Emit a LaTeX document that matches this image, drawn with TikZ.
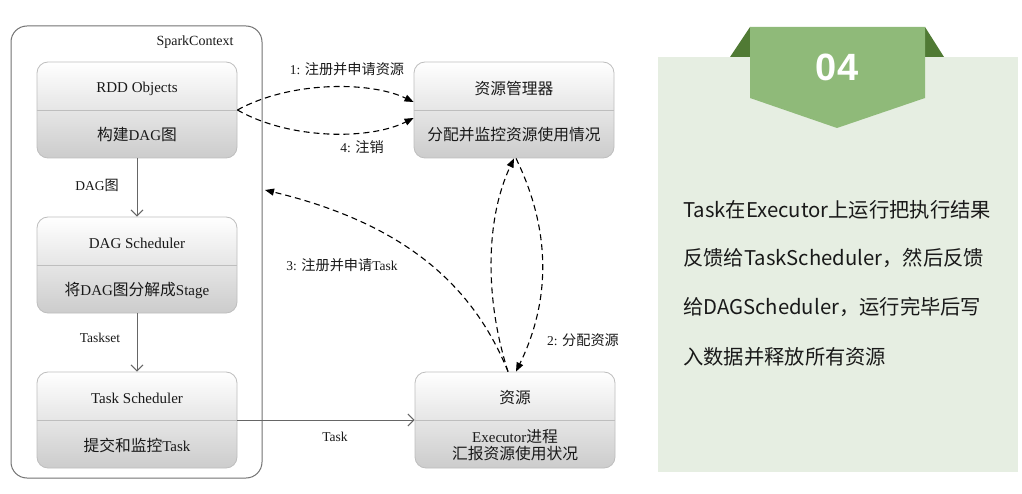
\documentclass[tikz,border=0pt]{standalone}
\usepackage{fontspec}
\setmainfont{Liberation Serif}
\newfontfamily\cjk{Noto Sans CJK SC}[Scale=1.05]
\newfontfamily\cjkp{Noto Sans CJK SC}
\newfontfamily\numfont{Liberation Sans}
\usetikzlibrary{arrows.meta}
\newcommand\zh[1]{{\cjk #1}}
\definecolor{panelbg}{RGB}{230,238,226}
\definecolor{bannerg}{RGB}{143,186,121}
\definecolor{darkg}{RGB}{80,122,52}
\definecolor{boxline}{RGB}{190,190,190}
\definecolor{txt}{RGB}{25,25,25}
\tikzset{
  box/.style={draw=boxline, line width=0.8pt, rounded corners=11pt, top color=white, bottom color=black!20,
    minimum width=200pt, minimum height=96pt, inner sep=0pt},
  boxtxt/.style={font=\fontsize{15}{18}\selectfont, text=txt, inner sep=0pt, align=center},
  lbl/.style={font=\fontsize{13.5}{16}\selectfont, text=txt, inner sep=0pt},
  solidarr/.style={draw=black!60, line width=1pt, -{Straight Barb[length=6pt,width=12pt]}},
  dasharr/.style={draw=black, line width=1.1pt, dash pattern=on 6pt off 4pt, -{Triangle[length=9pt,width=7pt]}},
  ptxt/.style={font=\cjkp\fontsize{20.3}{24}\selectfont, text=txt, anchor=west, inner sep=0pt}
}
\begin{document}
\begin{tikzpicture}[x=1pt,y=-1pt]
\useasboundingbox[fill=white] (0,0) rectangle (1022,494);
% container
\node[draw=black!55, line width=1pt, rounded corners=16pt, minimum width=251pt, minimum height=452pt] (spark) at (136.5,252) {};
\node[lbl, font=\fontsize{14}{16}\selectfont] (sparkT) at (195,42) {SparkContext};
% boxes
\node[box] (rdd) at (137,110) {};
\node[box] (dag) at (137,265) {};
\node[box] (task) at (137,420) {};
\node[box] (rm) at (514,110) {};
\node[box] (res) at (515,420) {};
\foreach \b in {rdd,dag,task,rm,res} \draw[boxline, line width=0.8pt] (\b.west) -- (\b.east);
% box texts
\node[boxtxt] (rddA) at (137,89) {RDD Objects};
\node[boxtxt] (rddB) at (137,135) {\zh{构建}DAG\zh{图}};
\node[boxtxt] (dagA) at (137,243) {DAG Scheduler};
\node[boxtxt] (dagB) at (137,290) {\zh{将}DAG\zh{图分解成}Stage};
\node[boxtxt] (taskA) at (137,398) {Task Scheduler};
\node[boxtxt] (taskB) at (137,445) {\zh{提交和监控}Task};
\node[boxtxt] (rmA) at (514,89) {\zh{资源管理器}};
\node[boxtxt] (rmB) at (514,135) {\zh{分配并监控资源使用情况}};
\node[boxtxt] (resA) at (515,398) {\zh{资源}};
\node[boxtxt] (resB) at (515,445) {Executor\zh{进程}\\[-1pt]\zh{汇报资源使用状况}};
% solid arrows
\draw[solidarr] (rdd.south) -- (dag.north);
\draw[solidarr] (dag.south) -- (task.north);
\draw[solidarr] (task.east) -- (res.west);
\node[lbl] (l0) at (97,185) {DAG\zh{图}};
\node[lbl] (l1) at (100,338) {Taskset};
\node[lbl] (l2) at (335,437) {Task};
% dashed arrows
\draw[dasharr] (rdd.east) .. controls (290,81) and (370,81) .. ([yshift=8pt]rm.west);
\draw[dasharr] (rdd.east) .. controls (290,140) and (370,140) .. ([yshift=-8pt]rm.west);
\node[lbl] (l3) at (347,69) {1: \zh{注册并申请资源}};
\node[lbl] (l4) at (362,147) {4: \zh{注销}};
\coordinate (c3) at (265,190);
\draw[dasharr] ([xshift=-7pt]res.north) .. controls (475,290) and (410,225) .. (c3);
\node[lbl] (l5) at (342,265) {3: \zh{注册并申请}Task};
\draw[dasharr] ([xshift=-7pt]res.north) .. controls (485,300) and (485,220) .. (rm.south);
\draw[dasharr] ([xshift=2pt]rm.south) .. controls (551,230) and (551,300) .. ([xshift=1pt]res.north);
\node[lbl] (l6) at (583,340) {2: \zh{分配资源}};
% right panel
\fill[panelbg] (658,57) rectangle (1018,472);
\fill[darkg] (730,57) -- (750,27) -- (750,57) -- cycle;
\fill[darkg] (925,27) -- (944,57) -- (925,57) -- cycle;
\fill[bannerg] (750,27) -- (925,27) -- (925,98) -- (837,128) -- (750,98) -- cycle;
\node[font=\numfont\bfseries\fontsize{38}{40}\selectfont, text=white, inner sep=0pt] (num) at (837,67) {04};
\node[ptxt] (p1) at (683,210) {Task在Executor上运行把执行结果};
\node[ptxt] (p2) at (683,258) {反馈给TaskScheduler，然后反馈};
\node[ptxt] (p3) at (683,307) {给DAGScheduler，运行完毕后写};
\node[ptxt] (p4) at (683,357) {入数据并释放所有资源};
\end{tikzpicture}
\end{document}
